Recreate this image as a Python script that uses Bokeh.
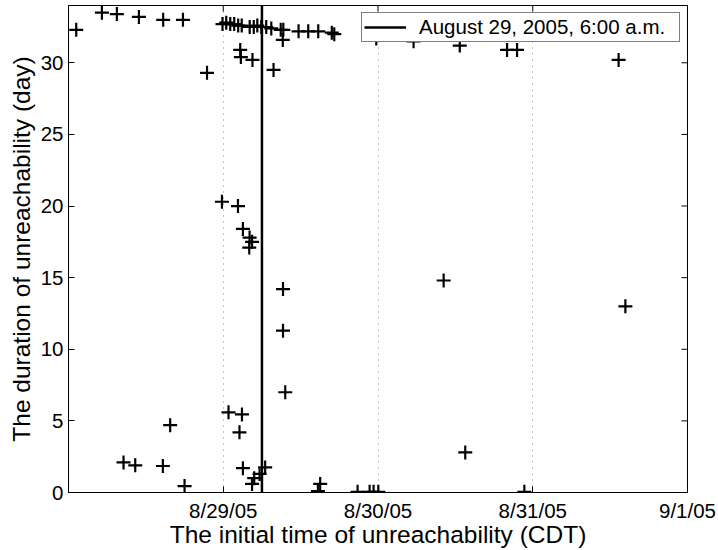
from datetime import datetime
import math
import pandas as pd
from bokeh.plotting import figure
from bokeh.models import (ColumnDataSource, Range1d, FixedTicker, DatetimeTickFormatter,
                          Legend, LegendItem)
from bokeh.embed import file_html
from bokeh.resources import INLINE

# ---- data ----
start_times = [
    "2005-08-28 01:12", "2005-08-28 05:11", "2005-08-28 07:30", "2005-08-28 10:55",
    "2005-08-28 14:41", "2005-08-28 17:45", "2005-08-28 21:29",
    "2005-08-28 23:53", "2005-08-29 00:28", "2005-08-29 01:05", "2005-08-29 01:42",
    "2005-08-29 02:19", "2005-08-29 02:52", "2005-08-29 04:06", "2005-08-29 04:44",
    "2005-08-29 05:17", "2005-08-29 05:54", "2005-08-29 06:40", "2005-08-29 07:27",
    "2005-08-29 08:55", "2005-08-29 09:19", "2005-08-29 11:41", "2005-08-29 13:11",
    "2005-08-29 14:44", "2005-08-29 16:50", "2005-08-29 17:13", "2005-08-29 23:44",
    "2005-08-30 05:31", "2005-08-30 12:41", "2005-08-30 20:01", "2005-08-30 21:34",
    "2005-08-31 13:19",
    "2005-08-29 02:38", "2005-08-29 02:44", "2005-08-29 04:32", "2005-08-29 07:48",
    "2005-08-29 09:14",
    "2005-08-28 23:48", "2005-08-29 02:17", "2005-08-29 03:03", "2005-08-29 04:05",
    "2005-08-29 04:28", "2005-08-29 04:02", "2005-08-29 09:16", "2005-08-29 09:16",
    "2005-08-29 09:37", "2005-08-30 10:11", "2005-08-31 14:22",
    "2005-08-29 00:49", "2005-08-29 02:54", "2005-08-29 02:31", "2005-08-28 15:46",
    "2005-08-28 08:32", "2005-08-28 10:21", "2005-08-28 14:38", "2005-08-28 18:00",
    "2005-08-29 03:03", "2005-08-29 04:28", "2005-08-29 04:48", "2005-08-29 05:38",
    "2005-08-29 06:30", "2005-08-29 14:41", "2005-08-29 15:02", "2005-08-29 20:50",
    "2005-08-29 22:42", "2005-08-29 23:19", "2005-08-30 00:03", "2005-08-30 13:32",
    "2005-08-30 22:42",
]
durations_days = [
    32.3, 33.5, 33.4, 33.2, 33.0, 33.0, 29.3,
    32.7, 32.8, 32.7, 32.7, 32.6, 32.6, 32.5, 32.5,
    32.6, 32.5, 32.5, 32.4, 32.3, 32.3, 32.2, 32.2,
    32.2, 32.1, 32.0, 31.7,
    31.5, 31.2, 30.9, 30.9,
    30.2,
    30.9, 30.4, 30.2, 29.5, 31.6,
    20.3, 20.0, 18.4, 17.8, 17.5, 17.1, 14.2, 11.3,
    7.0, 14.8, 13.0,
    5.6, 5.45, 4.2, 4.7,
    2.1, 1.9, 1.85, 0.45,
    1.7, 0.6, 1.0, 1.3,
    1.75, 0.1, 0.6, 0.05,
    0.05, 0.05, 0.05, 2.8,
    0.05,
]
event_time = datetime(2005, 8, 29, 6, 0)
event_label = "August 29, 2005, 6:00 a.m."
x_start, x_end = datetime(2005, 8, 28), datetime(2005, 9, 1)
y_start, y_end = 0, 34
x_tick_dates = [datetime(2005, 8, 29), datetime(2005, 8, 30), datetime(2005, 8, 31), datetime(2005, 9, 1)]
y_ticks = [0, 5, 10, 15, 20, 25, 30]
x_title = "The initial time of unreachability (CDT)"
y_title = "The duration of unreachability (day)"

FONT = "Liberation Sans"
TICK_FS = "20.5px"
LABEL_FS = "24.5px"

src = ColumnDataSource(dict(t=pd.to_datetime(start_times), d=durations_days))
x_tick_ms = [pd.Timestamp(d).value // 10**6 for d in x_tick_dates]

p = figure(width=718, height=550, output_backend="svg", toolbar_location=None,
           x_axis_type="datetime",
           x_range=Range1d(x_start, x_end), y_range=Range1d(y_start, y_end),
           min_border_left=68, min_border_right=31, min_border_top=5, min_border_bottom=56)
p.background_fill_color = "white"
p.border_fill_color = "white"
p.outline_line_color = "black"
p.outline_line_width = 1

def style_axis(ax):
    ax.axis_line_color = "black"
    ax.axis_line_width = 1
    ax.major_tick_line_color = "black"
    ax.major_tick_in = 6
    ax.major_tick_out = 0
    ax.minor_tick_in = 0
    ax.minor_tick_out = 0
    ax.major_label_text_font = FONT
    ax.major_label_text_color = "black"
    ax.major_label_text_font_size = TICK_FS
    ax.axis_label_text_font = FONT
    ax.axis_label_text_font_style = "normal"
    ax.axis_label_text_color = "black"
    ax.axis_label_text_font_size = LABEL_FS

fmt = DatetimeTickFormatter(days="%-m/%-d/%y", months="%-m/%-d/%y", hours="%-m/%-d/%y")

xa = p.xaxis[0]
xa.ticker = FixedTicker(ticks=x_tick_ms)
xa.formatter = fmt
xa.axis_label = x_title
style_axis(xa)
xa.major_label_standoff = 6
xa.axis_label_standoff = -4

ya = p.yaxis[0]
ya.ticker = FixedTicker(ticks=y_ticks)
ya.axis_label = y_title
style_axis(ya)
ya.major_label_standoff = 5
ya.axis_label_standoff = 3

p.xgrid.ticker = FixedTicker(ticks=x_tick_ms)
p.xgrid.grid_line_color = "#8a8a8a"
p.xgrid.grid_line_dash = "1 5"
p.xgrid.grid_line_width = 1
p.ygrid.grid_line_color = None

# inward tick marks on the right and top edges of the box (MATLAB "box on")
p.scatter(x=[x_end] * len(y_ticks), y=y_ticks, marker="dash", size=12,
          line_color="black", line_width=1)
p.scatter(x=x_tick_dates, y=[y_end] * len(x_tick_dates), marker="dash", size=12,
          angle=math.pi / 2, line_color="black", line_width=1)

p.scatter(x="t", y="d", source=src, marker="cross", size=14, line_width=2.2, line_color="black")

ev = p.line(x=[event_time, event_time], y=[y_start, y_end], line_color="black", line_width=2.5)

legend = Legend(items=[LegendItem(label=event_label, renderers=[ev])], location="top_right")
legend.label_text_font = FONT
legend.label_text_font_size = TICK_FS
legend.label_text_color = "black"
legend.border_line_color = "black"
legend.border_line_width = 1
legend.background_fill_color = "white"
legend.background_fill_alpha = 1
legend.glyph_width = 42
legend.glyph_height = 20
legend.label_height = 20
legend.label_width = 258
legend.label_standoff = 13
legend.padding = 2
legend.margin = 7
legend.spacing = 0
p.add_layout(legend)

open("out.html", "w").write(file_html(p, INLINE))
